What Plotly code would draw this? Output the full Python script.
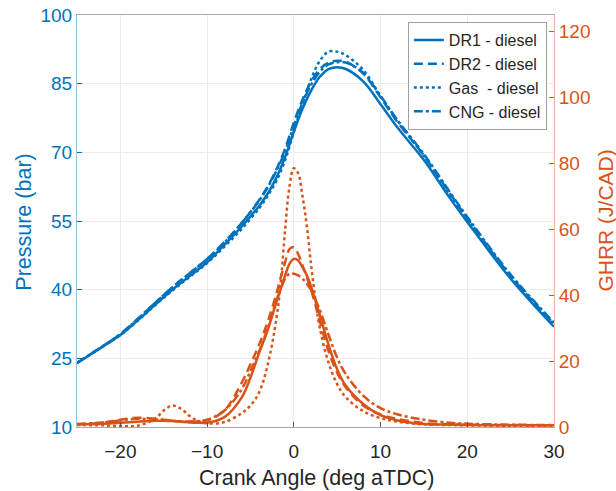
import plotly.graph_objects as go

# ---------------- data ----------------
crank_p = [-25, -22, -20, -18, -16, -14, -12, -10, -8, -6, -4, -3, -2, -1, 0, 1, 2, 3, 4, 5, 6, 8, 10, 12, 15, 18, 20, 25, 30]
p_dr1 = [24.0, 27.6, 30.1, 33.3, 36.7, 40.0, 43.0, 46.0, 49.8, 53.8, 58.3, 61.0, 64.5, 69.0, 74.5, 79.5, 83.5, 86.5, 88.2, 88.6, 88.2, 85.5, 80.5, 75.3, 68.3, 60.0, 54.8, 42.4, 31.9]
p_dr2 = [24.0, 27.7, 30.3, 33.6, 37.1, 40.5, 43.6, 46.7, 50.4, 54.6, 59.6, 62.6, 66.3, 70.8, 76.5, 81.5, 85.5, 88.2, 89.6, 90.0, 89.8, 87.2, 82.0, 76.5, 69.3, 61.0, 55.6, 43.0, 32.5]
p_gas = [24.0, 27.6, 30.1, 33.2, 36.6, 39.8, 42.8, 45.8, 49.4, 53.3, 57.8, 60.5, 63.8, 68.3, 74.5, 80.5, 86.0, 90.0, 92.0, 92.0, 91.2, 88.0, 82.3, 76.8, 69.2, 60.8, 55.4, 42.8, 32.3]
p_cng = [24.0, 27.7, 30.3, 33.6, 37.1, 40.5, 43.6, 46.7, 50.3, 54.6, 59.4, 62.4, 66.0, 70.3, 75.8, 80.8, 84.8, 87.6, 89.2, 89.7, 89.6, 87.4, 82.3, 76.9, 69.6, 61.3, 55.9, 43.3, 32.8]

crank_g = [-25, -22, -20, -18, -16, -15, -14, -13, -12, -11, -10, -8, -6, -5, -4, -3, -2, -1.5, -1, -0.5, 0, 0.5, 1, 1.5, 2, 2.5, 3, 4, 5, 6, 8, 10, 12, 15, 18, 20, 25, 30]
g_dr1 = [0.8, 1.0, 1.3, 1.6, 1.9, 1.9, 1.8, 1.6, 1.4, 1.3, 1.3, 3.0, 9.0, 15.0, 22.5, 29.5, 38.0, 42.0, 46.0, 49.5, 51.0, 50.5, 48.5, 46.0, 42.5, 38.5, 34.0, 25.0, 17.5, 12.5, 7.0, 3.6, 2.0, 0.9, 0.7, 0.6, 0.5, 0.5]
g_dr2 = [0.8, 1.3, 2.2, 2.8, 2.5, 2.2, 1.9, 1.7, 1.6, 1.7, 2.0, 5.0, 13.5, 19.0, 25.0, 32.0, 40.5, 45.5, 50.0, 54.0, 54.5, 52.5, 49.0, 45.5, 41.5, 37.0, 32.0, 23.0, 16.5, 12.0, 6.5, 3.8, 2.4, 1.2, 0.8, 0.7, 0.6, 0.5]
g_gas = [0.6, 0.5, 0.3, 0.4, 2.5, 5.0, 6.5, 5.5, 3.3, 1.8, 1.1, 1.5, 4.2, 6.5, 10.5, 19.0, 33.0, 44.0, 60.0, 73.0, 78.5, 77.0, 70.0, 61.0, 49.0, 38.5, 30.0, 19.5, 13.0, 9.0, 4.8, 2.7, 1.6, 0.8, 0.6, 0.5, 0.4, 0.4]
g_cng = [0.9, 1.4, 2.0, 2.5, 2.3, 2.1, 1.9, 1.7, 1.7, 1.8, 2.2, 5.0, 11.5, 17.0, 23.0, 30.0, 38.5, 42.0, 45.0, 46.5, 46.5, 46.0, 45.0, 43.5, 41.5, 38.5, 35.5, 28.0, 21.0, 16.0, 9.5, 5.7, 3.8, 2.2, 1.3, 1.0, 0.7, 0.6]

names = ["DR1 - diesel", "DR2 - diesel", "Gas\u00a0 - diesel", "CNG - diesel"]
dashes = ["solid", "9px,5px", "dot", "dashdot"]
left_ticks = [10, 25, 40, 55, 70, 85, 100]
right_ticks = [0, 20, 40, 60, 80, 100, 120]
x_ticks = [-20, -10, 0, 10, 20, 30]
x_title = "Crank Angle (deg aTDC)"
y_title = "Pressure (bar)"
y2_title = "GHRR (J/CAD)"

BLUE = "#0072BD"
ORANGE = "#D95319"
FONT = "Liberation Sans, Arial, Helvetica, sans-serif"

fig = go.Figure()
for name, ys, d in zip(names, [p_dr1, p_dr2, p_gas, p_cng], dashes):
    fig.add_trace(go.Scatter(x=crank_p, y=ys, mode="lines", name=name,
                             line=dict(color=BLUE, width=2.5, dash=d, shape="spline"),
                             yaxis="y"))
for name, ys, d in zip(names, [g_dr1, g_dr2, g_gas, g_cng], dashes):
    fig.add_trace(go.Scatter(x=crank_g, y=ys, mode="lines", name=name + " GHRR",
                             line=dict(color=ORANGE, width=2.5, dash=d, shape="spline"),
                             yaxis="y2", showlegend=False))

fig.update_layout(
    width=616, height=491,
    margin=dict(l=77, r=62, t=15, b=64),
    paper_bgcolor="white", plot_bgcolor="white",
    font=dict(family=FONT, size=19, color="#262626"),
    xaxis=dict(range=[-25, 30], tickvals=x_ticks, ticks="inside", ticklen=5,
               tickcolor="#555555", showgrid=True, gridcolor="#ececec",
               showline=True, linecolor="#a8a8a8", mirror=True, zeroline=False,
               automargin=False, ticklabelstandoff=7,
               tickfont=dict(size=19, color="#262626")),
    yaxis=dict(range=[10, 100], tickvals=left_ticks, ticks="inside", ticklen=5,
               tickcolor=BLUE, showgrid=True, gridcolor="#ececec",
               showline=True, linecolor="#94c3de", zeroline=False,
               automargin=False, tickfont=dict(size=19, color=BLUE)),
    yaxis2=dict(range=[0, 125], tickvals=right_ticks, ticks="inside", ticklen=5,
                tickcolor=ORANGE, overlaying="y", side="right", showgrid=False,
                showline=True, linecolor="#ecb8a2", zeroline=False,
                automargin=False, tickfont=dict(size=19, color=ORANGE)),
    legend=dict(x=0.985, y=0.983, xanchor="right", yanchor="top",
                bgcolor="white", bordercolor="#a0a0a0", borderwidth=1,
                font=dict(size=16, color="#262626"), itemwidth=30,
                tracegroupgap=0),
    showlegend=True,
    annotations=[
        dict(text=x_title, xref="paper", yref="paper", x=0.503, y=-0.124,
             xanchor="center", yanchor="middle", showarrow=False,
             font=dict(size=21.5, color="#262626")),
        dict(text=y_title, xref="paper", yref="paper", x=-0.111, y=0.496,
             xanchor="center", yanchor="middle", showarrow=False, textangle=-90,
             font=dict(size=21.5, color=BLUE)),
        dict(text=y2_title, xref="paper", yref="paper", x=1.106, y=0.500,
             xanchor="center", yanchor="middle", showarrow=False, textangle=-90,
             font=dict(size=21, color=ORANGE)),
    ],
)

fig.write_html("out.html", config={"displayModeBar": False},
               post_script="document.body.style.margin='0';document.body.style.overflow='hidden';")
